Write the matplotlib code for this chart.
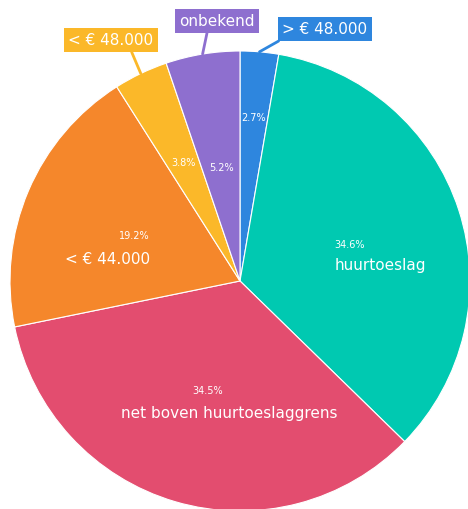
import numpy as np
import matplotlib
matplotlib.use('Agg')
import matplotlib.pyplot as plt

# data, clockwise from the top
labels = ['> € 48.000', 'huurtoeslag', 'net boven huurtoeslaggrens',
          '< € 44.000', '< € 48.000', 'onbekend']
values = [2.7, 34.6, 34.5, 19.2, 3.8, 5.2]
colors = ['#2e86de', '#00c9b1', '#e34d6f', '#f5872b', '#fbb829', '#8e6fcf']

W, H = 468, 509
CX, CY = 240, H - 281   # pie centre in pixel/data units
R = 230

fig = plt.figure(figsize=(W / 100, H / 100), dpi=100)
ax = fig.add_axes([0, 0, 1, 1])
ax.pie(values, colors=colors, startangle=90, counterclock=False,
       center=(CX, CY), radius=R,
       wedgeprops=dict(edgecolor='white', linewidth=0.8))
ax.set_xlim(0, W)
ax.set_ylim(0, H)
ax.set_aspect('equal')
ax.axis('off')

vals = np.array(values)
cum = np.cumsum(vals) - vals / 2
mid = np.deg2rad(90 - 360 * cum / vals.sum())

# inside percentage position (fraction of radius)
pct_r = [0.71, 0.5, 0.5, 0.5, 0.57, 0.5]
# big slices: name below the percentage -> (dx, dy, ha)
inside_name = {1: (-15, -20, 'left'), 2: (22, -22, 'center'), 3: (16, -24, 'right')}
# small slices: boxed label outside -> box centre (px) and arrow relpos
outside = {0: ((325, 29), (0.05, 0)), 4: ((111, 40), (0.72, 0)), 5: ((217, 21), (0.38, 0))}

for i, (lab, v) in enumerate(zip(labels, values)):
    px = CX + pct_r[i] * R * np.cos(mid[i])
    py = CY + pct_r[i] * R * np.sin(mid[i])
    ax.text(px, py, f'{v:.1f}%', color='white', fontsize=7,
            ha='center', va='center')
    if i in inside_name:
        dx, dy, ha = inside_name[i]
        ax.text(px + dx, py + dy, lab, color='white', fontsize=11,
                ha=ha, va='center')
    else:
        (bx, by), rel = outside[i]
        ex = CX + R * np.cos(mid[i])
        ey = CY + R * np.sin(mid[i])
        ax.annotate(lab, xy=(ex, ey), xytext=(bx, H - by),
                    color='white', fontsize=11, ha='center', va='center',
                    bbox=dict(boxstyle='square,pad=0.3', fc=colors[i], ec='none'),
                    arrowprops=dict(arrowstyle='-', color=colors[i], lw=2,
                                    relpos=rel, shrinkA=0, shrinkB=0))

fig.savefig('out.png', dpi=100)
